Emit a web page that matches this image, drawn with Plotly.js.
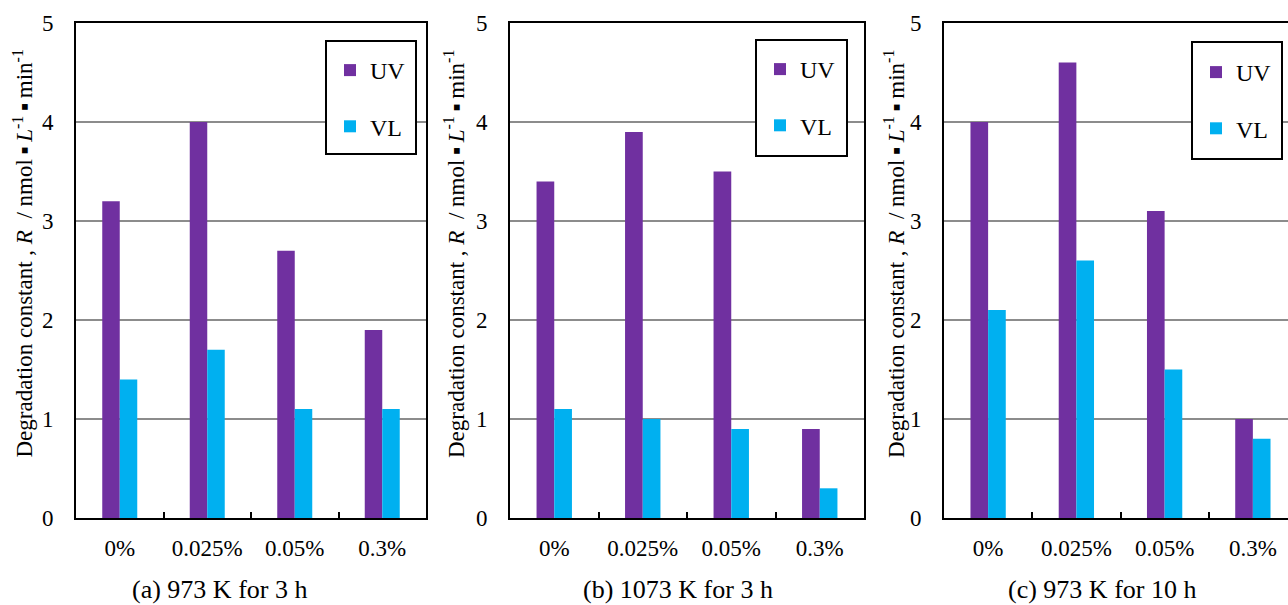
<!DOCTYPE html>
<html><head><meta charset="utf-8">
<script src="https://cdn.plot.ly/plotly-3.0.1.min.js"></script>
<style>html,body{margin:0;padding:0;overflow:hidden;background:#fff;width:1288px;height:605px}</style>
</head><body><div id="chart" style="width:1320px;height:605px"></div>
<script>
// ---- data ----
const categories = ['0%', '0.025%', '0.05%', '0.3%'];
const seriesNames = ['UV', 'VL'];
const uvA = [3.2, 4.0, 2.7, 1.9];
const vlA = [1.4, 1.7, 1.1, 1.1];
const uvB = [3.4, 3.9, 3.5, 0.9];
const vlB = [1.1, 1.0, 0.9, 0.3];
const uvC = [4.0, 4.6, 3.1, 1.0];
const vlC = [2.1, 2.6, 1.5, 0.8];
const panelTitles = ['(a) 973 K for 3 h', '(b) 1073 K for 3 h', '(c) 973 K for 10 h'];
const yTickVals = [0, 1, 2, 3, 4, 5];
const yTitle = 'Degradation constant , <i>R</i>\u00a0\u00a0/ nmol\u2009\u25aa\u2009<i>L</i><sup>-1</sup>\u2009\u25aa\u2009min<sup>-1</sup>';

// ---- layout helpers (pixels -> paper) ----
const W = 1320, H = 605;
const px = x => x / W;
const py = y => (H - y) / H;
const FONT = 'Liberation Serif, Times New Roman, serif';
const colors = ['#7030A0', '#00B0F0'];

const panels = [
  {uv: uvA, vl: vlA, x0: 76, x1: 426, box: [326, 41, 416, 154], legX: 330, legY: 48, titleX: 219, ytX: 22.5},
  {uv: uvB, vl: vlB, x0: 510, x1: 864, box: [756, 40, 847, 156], legX: 760, legY: 47, titleX: 678, ytX: 454},
  {uv: uvC, vl: vlC, x0: 944, x1: 1297, box: [1192, 42, 1282, 159], legX: 1196, legY: 50, titleX: 1102, ytX: 894}
];
const yTop = 23, yBot = 518;

const data = [];
const layout = {
  width: W, height: H,
  margin: {l: 0, r: 0, t: 0, b: 0},
  paper_bgcolor: '#fff', plot_bgcolor: '#fff',
  barmode: 'group', bargap: 0.6, bargroupgap: 0,
  font: {family: FONT, color: '#000', size: 23},
  shapes: [], annotations: []
};

panels.forEach((p, i) => {
  const sfx = i === 0 ? '' : String(i + 1);
  const legName = 'legend' + sfx;
  const vals = [p.uv, p.vl];
  vals.forEach((v, k) => {
    data.push({
      type: 'bar', x: categories, y: v, name: seriesNames[k],
      xaxis: 'x' + sfx, yaxis: 'y' + sfx,
      marker: {color: colors[k], line: {width: 0}},
      legend: legName, legendgroup: 'p' + i + 's' + k,
      hoverinfo: 'x+y+name'
    });
  });
  layout['xaxis' + sfx] = {
    domain: [px(p.x0), px(p.x1)], anchor: 'y' + sfx, type: 'category',
    showline: true, linecolor: '#000', linewidth: 2, mirror: true,
    ticks: 'inside', tickson: 'boundaries', ticklen: 6, tickwidth: 2, tickcolor: '#000',
    showgrid: false, zeroline: false, fixedrange: true,
    tickfont: {family: FONT, size: 23, color: '#000'}, ticklabelstandoff: 8
  };
  layout['yaxis' + sfx] = {
    domain: [py(yBot), py(yTop)], anchor: 'x' + sfx, range: [0, 5],
    tickvals: yTickVals, ticks: '', showline: true, linecolor: '#000', linewidth: 2, mirror: true,
    showgrid: true, gridcolor: '#8c8c8c', gridwidth: 1.5, zeroline: false, fixedrange: true,
    tickfont: {family: FONT, size: 23, color: '#000'}, ticklabelstandoff: 16
  };
  layout[legName] = {
    x: px(p.legX), y: py(p.legY), xanchor: 'left', yanchor: 'top', xref: 'paper', yref: 'paper',
    bgcolor: 'rgba(0,0,0,0)', borderwidth: 0, tracegroupgap: 22, traceorder: 'grouped',
    font: {family: FONT, size: 24, color: '#000'}
  };
  layout.shapes.push({
    type: 'rect', xref: 'paper', yref: 'paper', layer: 'above',
    x0: px(p.box[0]), x1: px(p.box[2]), y0: py(p.box[3]), y1: py(p.box[1]),
    fillcolor: '#fff', line: {color: '#000', width: 2}
  });
  layout.annotations.push({
    text: yTitle, xref: 'paper', yref: 'paper', x: px(p.ytX), y: py(254),
    xanchor: 'center', yanchor: 'middle', textangle: -90, showarrow: false,
    font: {family: FONT, size: 23, color: '#000'}
  });
  layout.annotations.push({
    text: panelTitles[i], xref: 'paper', yref: 'paper', x: px(p.titleX), y: py(589),
    xanchor: 'center', yanchor: 'middle', showarrow: false,
    font: {family: FONT, size: 26, color: '#000'}
  });
});

Plotly.newPlot('chart', data, layout, {displayModeBar: false});
</script></body></html>
